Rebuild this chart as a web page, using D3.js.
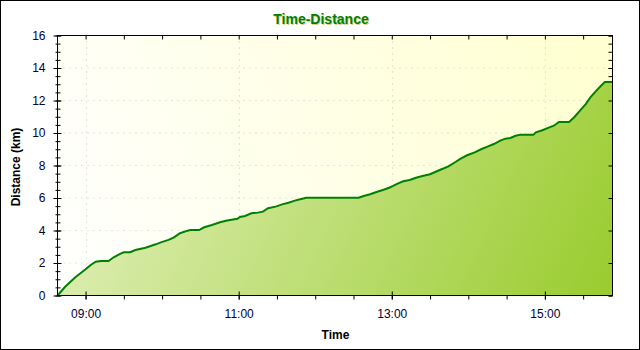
<!DOCTYPE html>
<html><head><meta charset="utf-8">
<script src="https://cdn.jsdelivr.net/npm/d3@7"></script>
<style>body{margin:0;background:#fff}svg{display:block}</style>
</head><body>
<script>
const times = ["08:38","08:44","08:52","09:00","09:04","09:08","09:12","09:18","09:22","09:27","09:30","09:35","09:39","09:47","09:55","09:59","10:05","10:09","10:14","10:20","10:22","10:29","10:33","10:39","10:46","10:51","10:59","11:01","11:05","11:10","11:15","11:19","11:23","11:29","11:34","11:39","11:44","11:49","11:53","12:34","12:38","12:43","12:48","12:53","12:58","13:01","13:05","13:09","13:14","13:19","13:24","13:30","13:34","13:39","13:44","13:49","13:54","13:59","14:05","14:10","14:15","14:20","14:25","14:29","14:33","14:37","14:41","14:51","14:53","14:58","15:03","15:07","15:11","15:19","15:23","15:28","15:32","15:36","15:40","15:44","15:47","15:53"];
const distances = [0.00,0.54,1.12,1.61,1.88,2.08,2.12,2.12,2.35,2.56,2.66,2.66,2.80,2.94,3.15,3.27,3.42,3.56,3.83,3.99,4.03,4.03,4.20,4.34,4.52,4.62,4.72,4.83,4.89,5.06,5.10,5.16,5.37,5.47,5.61,5.71,5.84,5.94,6.02,6.02,6.12,6.23,6.37,6.49,6.63,6.74,6.90,7.03,7.11,7.25,7.35,7.46,7.60,7.77,7.93,8.17,8.42,8.63,8.81,9.00,9.16,9.32,9.53,9.65,9.69,9.83,9.90,9.90,10.04,10.17,10.33,10.45,10.68,10.68,10.97,11.42,11.78,12.23,12.58,12.91,13.14,13.14];
const yMajorTicks = [0,2,4,6,8,10,12,14,16];
const yMinorTicks = d3.range(0,16.01,0.5);
const xMajorTicks = ["09:00","11:00","13:00","15:00"];
const titleText = "Time-Distance";
const xTitle = "Time";
const yTitle = "Distance (km)";

const W = 640, H = 350;
const L = 57.5, R = 612.5, T = 35.5, B = 295.5;
const font = "'Liberation Sans', Arial, sans-serif";
const parse = d3.timeParse("%H:%M");
const fmt = d3.timeFormat("%H:%M");
const data = times.map((t,i)=>({t:parse(t), d:distances[i]}));

const x = d3.scaleTime().domain(d3.extent(data, d=>d.t)).range([L,R]);
const y = d3.scaleLinear().domain([0,16]).range([B,T]);
const xMajor = xMajorTicks.map(parse);
const xMinor = d3.timeMinute.every(30).range(x.domain()[0], x.domain()[1]);

const svg = d3.select("body").append("svg").attr("width",W).attr("height",H);
const defs = svg.append("defs");
const bgG = defs.append("linearGradient").attr("id","bg").attr("gradientUnits","userSpaceOnUse")
  .attr("x1",L).attr("y1",B).attr("x2",R).attr("y2",T);
bgG.append("stop").attr("offset","0").attr("stop-color","#ffffff");
bgG.append("stop").attr("offset","1").attr("stop-color","#ffffd0");
const fG = defs.append("linearGradient").attr("id","fillg").attr("gradientUnits","userSpaceOnUse")
  .attr("x1",L).attr("y1",T).attr("x2",R).attr("y2",B);
fG.append("stop").attr("offset","0").attr("stop-color","#e8f3c8");
fG.append("stop").attr("offset","1").attr("stop-color","#99cc2e");

svg.append("rect").attr("x",0.5).attr("y",0.5).attr("width",W-1).attr("height",H-1)
  .attr("fill","#fff").attr("stroke","#000");
svg.append("rect").attr("x",L).attr("y",T).attr("width",R-L).attr("height",B-T).attr("fill","url(#bg)");

// grid
const grid = svg.append("g").attr("stroke","#c8c8c8").attr("stroke-dasharray","1,5");
grid.selectAll(".gx").data(xMajor).join("line")
  .attr("x1",d=>Math.round(x(d))+0.5).attr("x2",d=>Math.round(x(d))+0.5).attr("y1",T).attr("y2",B);
grid.selectAll(".gy").data(yMajorTicks.slice(1,-1)).join("line")
  .attr("y1",d=>y(d)).attr("y2",d=>y(d)).attr("x1",L).attr("x2",R);

// right minor ticks (under the fill)
svg.append("g").attr("transform",`translate(${R},0)`)
  .call(d3.axisLeft(y).tickValues(yMinorTicks).tickSize(4).tickFormat(""))
  .call(g=>g.select(".domain").remove());

// area + line
svg.append("path").datum(data).attr("fill","url(#fillg)")
  .attr("d", d3.area().x(d=>x(d.t)).y0(B).y1(d=>y(d.d)));
svg.append("path").datum(data).attr("fill","none").attr("stroke","#008000").attr("stroke-width",2)
  .attr("d", d3.line().x(d=>x(d.t)).y(d=>y(d.d)));

// box
svg.append("rect").attr("x",L).attr("y",T).attr("width",R-L).attr("height",B-T)
  .attr("fill","none").attr("stroke","#000");

// right major ticks
svg.append("g").attr("transform",`translate(${R},0)`)
  .call(d3.axisLeft(y).tickValues(yMajorTicks).tickSize(4).tickFormat(""))
  .call(g=>g.select(".domain").remove());
// top ticks
svg.append("g").attr("transform",`translate(0,${T})`)
  .call(d3.axisBottom(x).tickValues(xMinor).tickSize(4).tickFormat(""))
  .call(g=>g.select(".domain").remove());

// left axis
svg.append("g").attr("transform",`translate(${L},0)`)
  .call(d3.axisLeft(y).tickValues(yMinorTicks).tickSize(2).tickFormat(""))
  .call(g=>g.select(".domain").remove())
  .call(g=>g.selectAll("line").attr("x1",3));
const ya = svg.append("g").attr("transform",`translate(${L},0)`)
  .call(d3.axisLeft(y).tickValues(yMajorTicks).tickSize(4).tickPadding(8).tickFormat(d3.format("d")))
  .call(g=>g.select(".domain").remove())
  .call(g=>g.selectAll("line").attr("x1",4));
ya.selectAll("text").attr("font-family",font).attr("font-size",12).attr("fill","#000033");

// bottom axis
svg.append("g").attr("transform",`translate(0,${B})`)
  .call(d3.axisBottom(x).tickValues(xMinor).tickSize(4).tickFormat(""))
  .call(g=>g.select(".domain").remove());
const xa = svg.append("g").attr("transform",`translate(0,${B})`)
  .call(d3.axisBottom(x).tickValues(xMajor).tickSize(4).tickPadding(10).tickFormat(fmt))
  .call(g=>g.select(".domain").remove())
  .call(g=>g.selectAll("line").attr("y1",-4));
xa.selectAll("text").attr("font-family",font).attr("font-size",12).attr("fill","#000033");

// titles
svg.append("text").attr("x",321).attr("y",24).attr("text-anchor","middle")
  .attr("font-family",font).attr("font-size",14).attr("font-weight","bold").attr("fill","#d8d090")
  .attr("transform","translate(1,1)").text(titleText);
svg.append("text").attr("x",321).attr("y",24).attr("text-anchor","middle")
  .attr("font-family",font).attr("font-size",14).attr("font-weight","bold").attr("fill","#008000").text(titleText);
svg.append("text").attr("x",335.5).attr("y",339).attr("text-anchor","middle")
  .attr("font-family",font).attr("font-size",12).attr("font-weight","bold").attr("fill","#000").text(xTitle);
svg.append("text").attr("transform","translate(20,167) rotate(-90)").attr("text-anchor","middle")
  .attr("font-family",font).attr("font-size",12).attr("font-weight","bold").attr("fill","#000").text(yTitle);
</script>
</body></html>
